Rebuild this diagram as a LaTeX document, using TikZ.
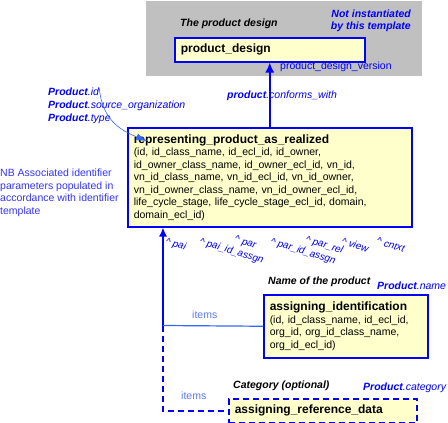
\documentclass[tikz,border=0pt]{standalone}
\usepackage{fontspec}
\setmainfont{Liberation Sans}
\usetikzlibrary{positioning}
\usetikzlibrary{arrows.meta}
\tikzset{>={Latex[width=9pt,length=10pt]}}
\definecolor{paleyellow}{RGB}{255,255,204}
\definecolor{zonegrey}{RGB}{192,192,192}
\definecolor{nbblue}{RGB}{51,51,255}
\definecolor{itemsblue}{RGB}{51,102,255}
\definecolor{itemstext}{RGB}{90,120,255}
\newcommand{\enttitle}{\fontsize{12}{12.5}\selectfont\bfseries}

\begin{document}
\begin{tikzpicture}[x=1pt, y=1pt, font=\fontsize{10.5}{12.5}\selectfont, entity/.style={draw=blue, line width=1.5pt, fill=paleyellow, align=left, inner xsep=6pt, inner ysep=0pt, anchor=north west}, optentity/.style={entity, dash pattern=on 6pt off 4pt}, zone/.style={fill=zonegrey, draw=none, inner sep=0pt, anchor=north west}, caption/.style={font=\fontsize{10.5}{12.5}\selectfont\bfseries\itshape, inner sep=0pt, anchor=west}, attr/.style={text=blue, font=\fontsize{10.5}{12.5}\selectfont\itshape, inner sep=0pt, anchor=west}, stacked/.style={attr, text height=7.6pt, text depth=2.2pt, anchor=north west}, role/.style={text=blue, font=\fontsize{10}{12}\selectfont\itshape, inner sep=0pt, anchor=north west, rotate=-17}, conn/.style={draw=blue, line width=1.6pt}, thinconn/.style={draw=itemsblue, line width=0.6pt}]

    \useasboundingbox (0,0) rectangle (448,-423);

    %Nodes
    \node[zone, minimum width=276pt, minimum height=75pt](template_zone) at (146,-1){};
    \node[entity, text width=178pt, minimum height=24pt](product_design) at (174,-37){{\enttitle product\_design}};
    \node[caption](design_caption) at (180,-24){The product design};
    \node[attr, font=\fontsize{10.5}{12.4}\selectfont\bfseries\itshape, align=right, anchor=east](not_inst) at (411,-20.5){Not instantiated\\by this template};
    \node[attr, font=\fontsize{10.5}{12.5}\selectfont](design_version) at (280,-67){product\_design\_version};

    \node[entity, text width=272pt, minimum height=99pt](realized) at (127,-127){{\enttitle representing\_product\_as\_realized}\\
      (id, id\_class\_name, id\_ecl\_id, id\_owner,\\
      id\_owner\_class\_name, id\_owner\_ecl\_id, vn\_id,\\
      vn\_id\_class\_name, vn\_id\_ecl\_id, vn\_id\_owner,\\
      vn\_id\_owner\_class\_name, vn\_id\_owner\_ecl\_id,\\
      life\_cycle\_stage, life\_cycle\_stage\_ecl\_id, domain,\\
      domain\_ecl\_id)};
    \node[attr](conforms) at (227,-96){\textbf{product}.conforms\_with};

    \node[stacked](prod_id) at (48,-87.5){\textbf{Product}.id};
    \node[stacked](prod_org)[below=2.8pt of prod_id.south west, anchor=north west]{\textbf{Product}.source\_organization};
    \node[stacked](prod_type)[below=2.8pt of prod_org.south west, anchor=north west]{\textbf{Product}.type};
    \coordinate (id_tip) at (147,-141);

    \node[text=nbblue, align=left, inner sep=0pt, anchor=north west](nb_note) at (0,-169){NB Associated identifier\\parameters populated in\\accordance with identifier\\template};

    \node[role](r_pai) at (167,-237){\textasciicircum\ pai};
    \node[role](r_pai_id) at (201,-237){\textasciicircum\ pai\_id\_assgn};
    \node[role](r_par) at (236,-235){\textasciicircum\ par};
    \node[role](r_par_id) at (272,-237){\textasciicircum\ par\_id\_assgn};
    \node[role](r_par_rel) at (307,-235){\textasciicircum\ par\_rel};
    \node[role](r_view) at (343,-237){\textasciicircum\ view};
    \node[role](r_cntxt) at (378,-237){\textasciicircum\ cntxt};

    \node[entity, text width=152pt, minimum height=63pt](ident) at (263,-294){{\enttitle assigning\_identification}\\
      (id, id\_class\_name, id\_ecl\_id,\\
      org\_id, org\_id\_class\_name,\\
      org\_id\_ecl\_id)};
    \node[caption](name_caption) at (268,-282){Name of the product};
    \node[attr](prod_name) at (377,-286){\textbf{Product}.name};
    \node[inner sep=0pt, anchor=west, text=itemstext](items_ident) at (192,-315){items};

    \node[optentity, text width=176pt, minimum height=24pt](refdata) at (228,-398){{\enttitle assigning\_reference\_data}};
    \node[caption](cat_caption) at (233,-386){Category (optional)};
    \node[attr](prod_cat) at (363,-388){\textbf{Product}.category};
    \node[inner sep=0pt, anchor=west, text=itemstext](items_ref) at (181,-396){items};

    \coordinate (junction) at (163,-325.5);

    %Lines
    \draw[conn, ->] (realized.north) -- (product_design.south);
    \draw[thinconn, ->, >={Latex[width=7pt,length=11pt]}] (prod_id.north east) .. controls +(3,-30) and +(-30,12) .. (id_tip);
    \draw[conn, ->, >={Latex[width=8pt,length=9pt]}] (junction) -- (junction |- realized.south);
    \draw[draw=itemsblue, line width=1.2pt] (junction) -- (ident.west);
    \draw[conn, dash pattern=on 6pt off 4pt] (junction) |- (refdata.west);

\end{tikzpicture}
\end{document}
